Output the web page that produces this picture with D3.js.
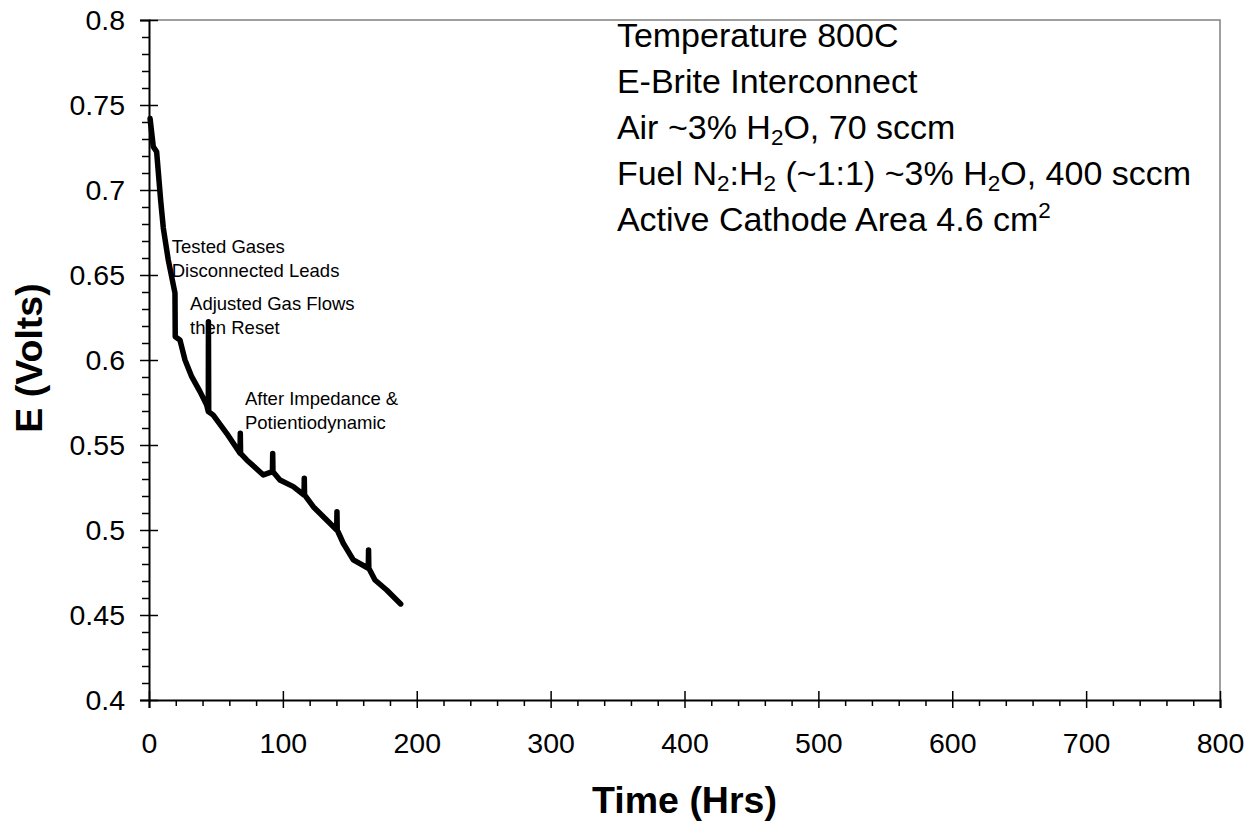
<!DOCTYPE html>
<html>
<head>
<meta charset="utf-8">
<script src="https://cdn.jsdelivr.net/npm/d3@7"></script>
<style>
  html, body { margin: 0; padding: 0; background: #fff; }
  svg { display: block; font-family: "Liberation Sans", Arial, sans-serif; }
</style>
</head>
<body>
<svg id="chart" width="1244" height="821"></svg>
<script>
// ---- data ----
const timeHrs = [0.8, 3.2, 5.7, 8.7, 10.7, 14.4, 19.4, 19.6, 23.1, 26.9, 31.9, 38.1, 43.1, 44.3, 44.4, 44.6,
  48, 58, 68, 68.2, 68.4, 73, 85.4, 92.2, 92.4, 92.6, 97.8, 107.8, 115.8, 116, 116.2, 122.7, 132.7,
  140.2, 140.4, 140.6, 145.1, 152.6, 163.8, 164, 164.2, 168.8, 177.5, 188];
const voltage = [0.742, 0.7255, 0.7225, 0.694, 0.6776, 0.6588, 0.6394, 0.6137, 0.6118, 0.600, 0.5902, 0.5814,
  0.5735, 0.5696, 0.6225, 0.5696, 0.5676, 0.5569, 0.5451, 0.5569, 0.5451, 0.5412, 0.5324, 0.5343, 0.5450,
  0.5343, 0.5294, 0.5255, 0.5206, 0.5304, 0.5206, 0.5137, 0.5059, 0.5, 0.5108, 0.5, 0.4922, 0.4824, 0.4775,
  0.4882, 0.4775, 0.4706, 0.4647, 0.4565];

const xMajorTicks = [0, 100, 200, 300, 400, 500, 600, 700, 800];
const xMinorTicks = d3.range(0, 801, 20).filter(v => v % 100 !== 0);
const yMajorTicks = [0.4, 0.45, 0.5, 0.55, 0.6, 0.65, 0.7, 0.75, 0.8];
const yMinorTicks = d3.range(40, 81, 1).map(v => v / 100).filter(v => Math.round(v * 100) % 5 !== 0);
const yTickLabels = ["0.4", "0.45", "0.5", "0.55", "0.6", "0.65", "0.7", "0.75", "0.8"];

const xTitle = "Time (Hrs)";
const yTitle = "E (Volts)";

const eventNotes = [
  { lines: ["Tested Gases", "Disconnected Leads"], t: 17, e: 0.6628 },
  { lines: ["Adjusted Gas Flows", "then Reset"], t: 30.7, e: 0.6294 },
  { lines: ["After Impedance &", "Potientiodynamic"], t: 71.7, e: 0.5735 }
];

// Condition block: each line is a list of [text, kind] runs (kind: n=normal, sub, sup)
const conditions = [
  [["Temperature 800C", "n"]],
  [["E-Brite Interconnect", "n"]],
  [["Air ~3% H", "n"], ["2", "sub"], ["O, 70 sccm", "n"]],
  [["Fuel N", "n"], ["2", "sub"], [":H", "n"], ["2", "sub"], [" (~1:1) ~3% H", "n"], ["2", "sub"], ["O, 400 sccm", "n"]],
  [["Active Cathode Area 4.6 cm", "n"], ["2", "sup"]]
];

// ---- layout ----
const svg = d3.select("#chart");
const pL = 149, pR = 1220, pT = 20, pB = 700;

const x = d3.scaleLinear().domain([0, 800]).range([pL, pR]);
const y = d3.scaleLinear().domain([0.4, 0.8]).range([pB, pT]);

// frame (top & right, gray)
svg.append("path")
  .attr("d", `M${pL},${pT}H${pR}V${pB}`)
  .attr("fill", "none").attr("stroke", "#808080").attr("stroke-width", 1.5);

// X axis
const gx = svg.append("g").attr("transform", `translate(0,${pB})`);
gx.call(d3.axisBottom(x).tickValues(xMajorTicks).tickSize(8).tickPadding(25).tickFormat(d3.format("d")));
gx.append("g").call(d3.axisTop(x).tickValues(xMajorTicks).tickSize(9).tickFormat(""));
gx.append("g").call(d3.axisBottom(x).tickValues(xMinorTicks).tickSize(6).tickFormat(""));

// Y axis
const gy = svg.append("g").attr("transform", `translate(${pL},0)`);
gy.call(d3.axisLeft(y).tickValues(yMajorTicks).tickSize(9).tickPadding(15)
  .tickFormat((d, i) => yTickLabels[i]));
gy.append("g").call(d3.axisRight(y).tickValues(yMajorTicks).tickSize(9).tickFormat(""));
gy.append("g").call(d3.axisLeft(y).tickValues(yMinorTicks).tickSize(7).tickFormat(""));

// remove inner duplicate domains
gx.selectAll(":scope > g > .domain").remove();
gy.selectAll(":scope > g > .domain").remove();
svg.selectAll(".domain").attr("stroke", "#000").attr("stroke-width", 2);
svg.selectAll(".tick line").attr("stroke", "#000").attr("stroke-width", 1.5);
svg.selectAll(".tick text").attr("font-size", 28.5).attr("fill", "#000")
  .attr("font-family", "'Liberation Sans', Arial, sans-serif");

// Data line
const pts = timeHrs.map((t, i) => [t, voltage[i]]);
svg.append("path")
  .datum(pts)
  .attr("fill", "none")
  .attr("stroke", "#000")
  .attr("stroke-width", 5.5)
  .attr("stroke-linejoin", "round")
  .attr("stroke-linecap", "round")
  .attr("d", d3.line().x(d => x(d[0])).y(d => y(d[1])));

// Axis titles
svg.append("text")
  .attr("x", (pL + pR) / 2).attr("y", 813)
  .attr("text-anchor", "middle")
  .attr("font-size", 37.5).attr("font-weight", "bold")
  .text(xTitle);

svg.append("text")
  .attr("transform", `translate(42,358) rotate(-90)`)
  .attr("text-anchor", "middle")
  .attr("font-size", 37.5).attr("font-weight", "bold")
  .text(yTitle);

// Event notes
eventNotes.forEach(n => {
  const t = svg.append("text")
    .attr("x", x(n.t)).attr("y", y(n.e))
    .attr("font-size", 18.5).attr("fill", "#000");
  n.lines.forEach((l, i) => {
    t.append("tspan").attr("x", x(n.t)).attr("dy", i === 0 ? 0 : 23.5).text(l);
  });
});

// Conditions block
const condX = x(349.5);
conditions.forEach((runs, i) => {
  const t = svg.append("text")
    .attr("x", condX).attr("y", y(0.784) + i * 46)
    .attr("font-size", 34).attr("fill", "#000");
  runs.forEach(([txt, kind]) => {
    const ts = t.append("tspan").text(txt);
    if (kind === "sub") ts.attr("font-size", 22.5).attr("baseline-shift", "-25%");
    if (kind === "sup") ts.attr("font-size", 22.5).attr("baseline-shift", "55%");
  });
});
</script>
</body>
</html>
